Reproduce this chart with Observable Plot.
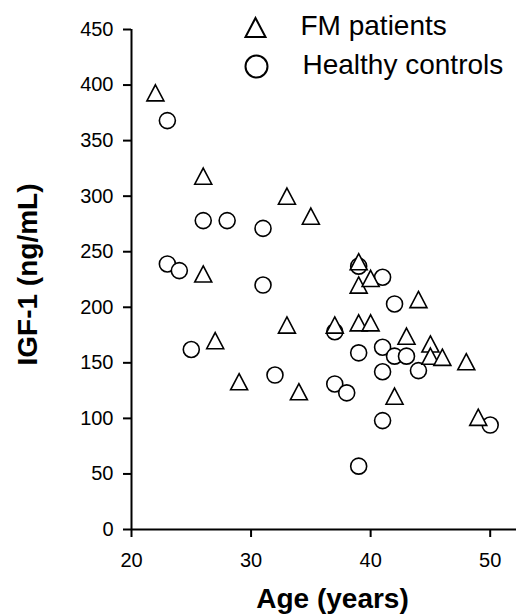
<!DOCTYPE html>
<html><head><meta charset="utf-8">
<script src="https://cdn.jsdelivr.net/npm/d3@7"></script>
<script src="https://cdn.jsdelivr.net/npm/@observablehq/plot@0.6"></script>
<style>body{margin:0;background:#fff} svg{display:block}</style>
</head><body><div id="chart"></div>
<script>
// FM patients (triangles)
const fmAge = [22, 26, 26, 27, 29, 33, 35, 33, 34, 37, 39, 39, 40, 39, 40, 44, 43, 45, 45, 46, 48, 42, 49];
const fmIGF = [393, 318, 230, 170, 133, 300, 282, 184, 124, 184, 241, 220, 226, 186, 186, 207, 174, 167, 156, 155, 151, 120, 101];
// Healthy controls (circles)
const hcAge = [23, 26, 28, 31, 31, 23, 24, 25, 32, 37, 38, 37, 39, 41, 42, 39, 41, 42, 43, 41, 44, 41, 50, 39];
const hcIGF = [368, 278, 278, 271, 220, 239, 233, 162, 139, 131, 123, 178, 237, 227, 203, 159, 164, 156, 156, 142, 143, 98, 94, 57];
const seriesNames = ["FM patients", "Healthy controls"];
const xTicks = [20, 30, 40, 50];
const yTicks = [0, 50, 100, 150, 200, 250, 300, 350, 400, 450];
const xTitle = "Age (years)";
const yTitle = "IGF-1 (ng/mL)";

const fm = fmAge.map((a, i) => ({age: a, igf: fmIGF[i]}));
const hc = hcAge.map((a, i) => ({age: a, igf: hcIGF[i]}));

const triangle = {
  draw(context, size) {
    const r = Math.sqrt(size / Math.PI);
    const h = r * 0.95;
    context.moveTo(0, -h);
    context.lineTo(r, h);
    context.lineTo(-r, h);
    context.closePath();
  }
};

const font = "'Liberation Sans', Arial, Helvetica, sans-serif";

const chart = Plot.plot({
  width: 516,
  height: 616,
  marginLeft: 131,
  marginRight: 0,
  marginTop: 29,
  marginBottom: 87,
  style: {fontFamily: font, background: "white", color: "black"},
  x: {domain: [20, 52.2]},
  y: {domain: [0, 450]},
  marks: [
    Plot.axisX({ticks: xTicks, tickSize: 8, tickPadding: 15, fontSize: 20, label: null, strokeWidth: 2}),
    Plot.axisY({ticks: yTicks, tickSize: 8, tickPadding: 10, fontSize: 20, label: null, strokeWidth: 2}),
    Plot.ruleY([yTicks[0]], {stroke: "black", strokeWidth: 2}),
    Plot.ruleX([xTicks[0]], {stroke: "black", strokeWidth: 2}),
    Plot.dot(hc, {x: "age", y: "igf", r: 8, symbol: "circle", stroke: "black", fill: "white", strokeWidth: 1.6}),
    Plot.dot(fm, {x: "age", y: "igf", r: 8.5, symbol: triangle, stroke: "black", fill: "white", strokeWidth: 1.6}),
    // legend
    Plot.dot([seriesNames[0]], {frameAnchor: "top-left", dx: 124, dy: -2, r: 10, symbol: triangle, stroke: "black", fill: "white", strokeWidth: 2}),
    Plot.dot([seriesNames[1]], {frameAnchor: "top-left", dx: 125, dy: 37, r: 11, symbol: "circle", stroke: "black", fill: "white", strokeWidth: 2}),
    Plot.text([seriesNames[0]], {text: d => d, frameAnchor: "top-left", dx: 169, dy: -3, textAnchor: "start", lineAnchor: "middle", fontSize: 28}),
    Plot.text([seriesNames[1]], {text: d => d, frameAnchor: "top-left", dx: 171, dy: 36, textAnchor: "start", lineAnchor: "middle", fontSize: 28}),
    // axis titles
    Plot.text([xTitle], {text: d => d, frameAnchor: "bottom", dx: 8.5, dy: 70, textAnchor: "middle", lineAnchor: "middle", fontSize: 28, fontWeight: "bold"}),
    Plot.text([yTitle], {text: d => d, frameAnchor: "left", dx: -103.5, dy: -5, rotate: -90, textAnchor: "middle", lineAnchor: "middle", fontSize: 28, fontWeight: "bold"})
  ]
});
document.getElementById("chart").appendChild(chart);
</script>
</body></html>
